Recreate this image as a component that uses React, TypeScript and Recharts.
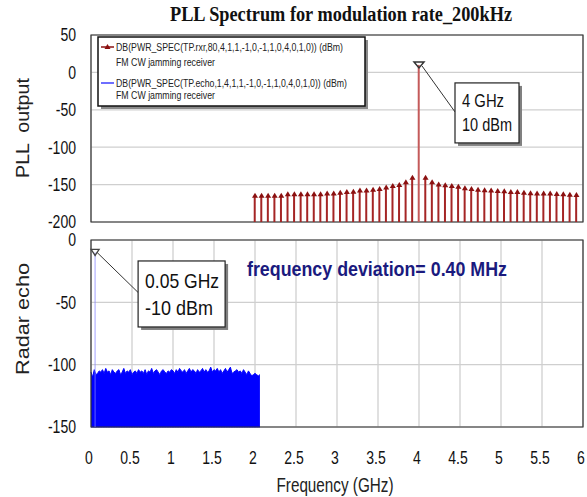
import React from "react";
import {
  Area,
  Bar,
  CartesianGrid,
  Cell,
  ComposedChart,
  ReferenceArea,
  Scatter,
  XAxis,
  YAxis,
} from "recharts";

const FREQ_TICKS = [0, 0.5, 1, 1.5, 2, 2.5, 3, 3.5, 4, 4.5, 5, 5.5, 6];
const PLL_TICKS = [-200, -150, -100, -50, 0, 50];
const ECHO_TICKS = [-150, -100, -50, 0];

// PLL output spectrum lines, 2 GHz .. 5.92 GHz every 80 MHz
const STEM_START = 2.0;
const STEM_STEP = 0.08;
const PLL_LEVELS = [
  -165, -165, -165, -165, -165, -163, -163, -163, -163, -163,
  -163, -162, -162, -161, -160, -159.5, -158, -158, -157, -156,
  -154, -152, -150.5, -147, -141, 10, -141, -147, -150, -151,
  -152, -153, -155, -156, -157, -157.5, -158, -158.5, -159, -160,
  -160, -161, -161.5, -162, -162, -162, -162.5, -163, -163.5, -164,
];
const PEAK_INDEX = 25;

// radar echo noise floor, 0 .. 2.06 GHz every 20 MHz
const ECHO_STEP = 0.02;
const ECHO_NOISE = [
  -106, -110, -104, -108, -107, -105, -106, -104, -107, -103,
  -106, -105, -108, -104, -106, -107, -105, -104, -108, -106,
  -103, -107, -105, -106, -104, -108, -106, -105, -107, -104,
  -106, -105, -107, -104, -108, -105, -106, -103, -107, -105,
  -104, -106, -108, -105, -104, -106, -107, -105, -106, -104,
  -105, -107, -104, -106, -103, -105, -106, -104, -107, -105,
  -103, -106, -104, -105, -107, -104, -106, -105, -103, -106,
  -104, -106, -105, -102, -106, -104, -105, -103, -106, -104,
  -107, -105, -103, -106, -104, -102, -107, -106, -105, -104,
  -106, -105, -107, -104, -106, -108, -105, -107, -109, -108,
  -107, -108, -109, -108,
];
const ECHO_SPIKE = { f: 0.05, v: -10 };

const SANS = "'Liberation Sans', Arial, sans-serif";
const SERIF = "'Liberation Serif', 'Times New Roman', serif";

const pllData = PLL_LEVELS.map((v, i) => ({
  f: +(STEM_START + i * STEM_STEP).toFixed(2),
  v,
  range: [-200, v],
}));
const pllMarkers = pllData.filter((_, i) => i !== PEAK_INDEX);
const pllPeak = [pllData[PEAK_INDEX]];

const echoData: any[] = ECHO_NOISE.map((v, i) => ({
  f: +(i * ECHO_STEP).toFixed(2),
  band: [-150, v],
}));
echoData.splice(3, 0, { f: ECHO_SPIKE.f, spike: [-150, ECHO_SPIKE.v] });

function YTick(props: any) {
  const { x, y, payload } = props;
  return (
    <g transform={`translate(${x},${y})`}>
      <text transform="scale(0.78,1)" textAnchor="end" dy="0.36em" fontSize={18} fill="#111" fontFamily={SANS}>
        {payload.value}
      </text>
    </g>
  );
}

function XTick(props: any) {
  const { x, y, payload } = props;
  return (
    <g transform={`translate(${x - 2},${y})`}>
      <text transform="scale(0.78,1)" textAnchor="middle" dy="0.71em" fontSize={18} fill="#111" fontFamily={SANS}>
        {payload.value}
      </text>
    </g>
  );
}

function UpTriangle(props: any) {
  const { cx, cy } = props;
  return <path d={`M${cx - 3},${cy + 2} L${cx + 3},${cy + 2} L${cx},${cy - 3} Z`} fill="#8b1010" />;
}

function NoteBox({ x, y, w, h, lines, size, lens }: any) {
  return (
    <g>
      <rect x={x + 3} y={y + 3} width={w} height={h} fill="#808080" />
      <rect x={x} y={y} width={w} height={h} fill="#fff" stroke="#222" strokeWidth={1.2} />
      {lines.map((t: string, i: number) => (
        <text
          key={t}
          x={x + 7}
          y={y + h * (i === 0 ? 0.3 : 0.7)}
          dy="0.36em"
          fontSize={size}
          fontFamily={SANS}
          fill="#111"
          textLength={lens[i]}
          lengthAdjust="spacingAndGlyphs"
        >
          {t}
        </text>
      ))}
    </g>
  );
}

function PeakMarker(props: any) {
  const { cx, cy } = props;
  return (
    <g>
      <line x1={cx + 3} y1={cy + 1} x2={cx + 36} y2={cy + 47} stroke="#333" strokeWidth={1} />
      <path d={`M${cx - 5},${cy - 3} L${cx + 5},${cy - 3} L${cx},${cy + 3} Z`} fill="none" stroke="#333" strokeWidth={1.5} />
      <NoteBox x={cx + 36} y={cy + 18} w={64} h={60} size={18} lines={["4 GHz", "10 dBm"]} lens={[42, 50]} />
    </g>
  );
}

function EchoMarker(props: any) {
  const { cx, cy } = props;
  return (
    <g>
      <line x1={cx + 2} y1={cy} x2={cx + 43} y2={cy + 40} stroke="#333" strokeWidth={1} />
      <path d={`M${cx - 4},${cy - 3} L${cx + 4},${cy - 3} L${cx},${cy + 3} Z`} fill="none" stroke="#444" strokeWidth={1.3} />
      <NoteBox x={cx + 43} y={cy + 8.5} w={87} h={66} size={21} lines={["0.05 GHz", "-10 dBm"]} lens={[74, 68]} />
    </g>
  );
}

function Overlay() {
  const t = { fontFamily: SANS, fill: "#222" };
  return (
    <svg width={587} height={497} style={{ position: "absolute", left: 0, top: 0, pointerEvents: "none" }}>
      <text x={341} y={14} dy="0.35em" textAnchor="middle" fontFamily={SERIF} fontWeight="bold" fontSize={20} fill="#111"
        textLength={342} lengthAdjust="spacingAndGlyphs">
        PLL Spectrum for modulation rate_200kHz
      </text>
      <text transform="translate(22,128) rotate(-90)" textAnchor="middle" dy="0.35em" fontSize={19} {...t}
        style={{ whiteSpace: "pre" }} textLength={100} lengthAdjust="spacingAndGlyphs">
        PLL  output
      </text>
      <text transform="translate(22,319) rotate(-90)" textAnchor="middle" dy="0.35em" fontSize={19} {...t}
        textLength={112} lengthAdjust="spacingAndGlyphs">
        Radar echo
      </text>
      <text x={335} y={485} dy="0.35em" textAnchor="middle" fontSize={20} {...t}
        textLength={117} lengthAdjust="spacingAndGlyphs">
        Frequency (GHz)
      </text>
      <text x={247} y={269} dy="0.35em" fontSize={20} fontWeight="bold" fontFamily={SANS} fill="#1a1a7e"
        textLength={260} lengthAdjust="spacingAndGlyphs">
        frequency deviation= 0.40 MHz
      </text>

      <rect x={101} y={40} width={267} height={69} fill="#8a8a8a" />
      <rect x={98} y={37} width={267} height={69} fill="#fff" stroke="#111" strokeWidth={1.5} />
      <line x1={101} y1={47} x2={114} y2={47} stroke="#8b1010" strokeWidth={1.5} />
      <path d="M104.5,49 L110.5,49 L107.5,44 Z" fill="#8b1010" />
      <text x={116} y={47} dy="0.35em" fontSize={10} {...t} textLength={227} lengthAdjust="spacingAndGlyphs">
        DB(PWR_SPEC(TP.rxr,80,4,1,1,-1,0,-1,1,0,4,0,1,0)) (dBm)
      </text>
      <text x={116} y={62} dy="0.35em" fontSize={10} {...t} textLength={99} lengthAdjust="spacingAndGlyphs">
        FM CW jamming receiver
      </text>
      <line x1={101} y1={83} x2={114} y2={83} stroke="#2020ff" strokeWidth={1.3} />
      <text x={116} y={83} dy="0.35em" fontSize={10} {...t} textLength={231} lengthAdjust="spacingAndGlyphs">
        DB(PWR_SPEC(TP.echo,1,4,1,1,-1,0,-1,1,0,4,0,1,0)) (dBm)
      </text>
      <text x={116} y={95} dy="0.35em" fontSize={10} {...t} textLength={99} lengthAdjust="spacingAndGlyphs">
        FM CW jamming receiver
      </text>
    </svg>
  );
}

export default function App() {
  return (
    <div style={{ position: "absolute", left: 0, top: 0, width: 587, height: 497, background: "#fff" }}>
      <div style={{ position: "absolute", left: 0, top: 0 }}>
        <ComposedChart width={587} height={240} data={pllData} margin={{ top: 35, right: 4, bottom: 0, left: 0 }}>
          <CartesianGrid stroke="#cfcfcf" strokeWidth={1.3} />
          <XAxis dataKey="f" type="number" domain={[0, 6]} ticks={FREQ_TICKS} height={18}
            tick={false} tickLine={false} axisLine={false} />
          <YAxis type="number" domain={[-200, 50]} ticks={PLL_TICKS} interval={0} width={91}
            tick={<YTick />} tickLine={false} tickSize={0} tickMargin={15} axisLine={false} />
          <Bar dataKey="range" barSize={2} isAnimationActive={false}>
            {pllData.map((d, i) => (
              <Cell key={d.f} fill={i === PEAK_INDEX ? "#c45a5a" : "#a52525"} />
            ))}
          </Bar>
          <Scatter data={pllMarkers} dataKey="v" shape={<UpTriangle />} isAnimationActive={false} />
          <Scatter data={pllPeak} dataKey="v" shape={<PeakMarker />} isAnimationActive={false} />
          <ReferenceArea x1={0} x2={6} y1={-200} y2={50} fill="none" stroke="#333" strokeWidth={1.2} />
        </ComposedChart>
      </div>
      <div style={{ position: "absolute", left: 0, top: 230 }}>
        <ComposedChart width={587} height={267} data={echoData} margin={{ top: 10, right: 4, bottom: 0, left: 0 }}>
          <CartesianGrid stroke="#cfcfcf" strokeWidth={1.3} />
          <XAxis dataKey="f" type="number" domain={[0, 6]} ticks={FREQ_TICKS} interval={0} height={70}
            tick={<XTick />} tickLine={false} tickSize={0} tickMargin={24} axisLine={false} />
          <YAxis type="number" domain={[-150, 0]} ticks={ECHO_TICKS} interval={0} width={91}
            tick={<YTick />} tickLine={false} tickSize={0} tickMargin={15} axisLine={false} />
          <Area dataKey="band" type="linear" stroke="#0000ff" strokeWidth={1} fill="#0000ff" fillOpacity={1}
            connectNulls isAnimationActive={false} dot={false} activeDot={false} />
          <Bar dataKey="spike" barSize={2} fill="#8080ff" isAnimationActive={false} />
          <Scatter data={[ECHO_SPIKE]} dataKey="v" shape={<EchoMarker />} isAnimationActive={false} />
          <ReferenceArea x1={0} x2={6} y1={-150} y2={0} fill="none" stroke="#333" strokeWidth={1.2} />
        </ComposedChart>
      </div>
      <Overlay />
    </div>
  );
}
